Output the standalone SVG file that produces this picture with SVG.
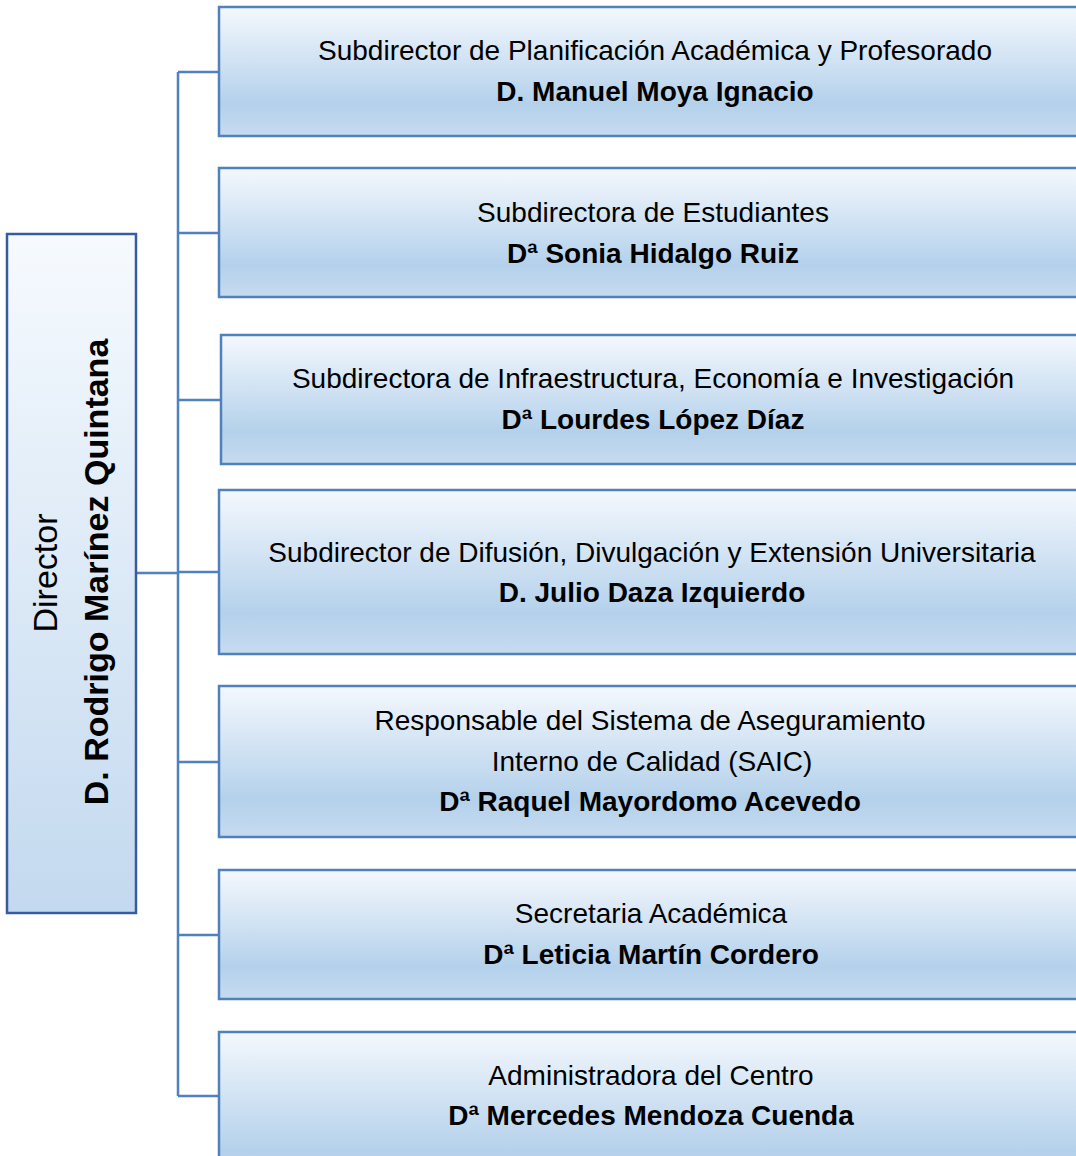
<svg xmlns="http://www.w3.org/2000/svg" width="1076" height="1156" viewBox="0 0 1076 1156">
<defs>
<linearGradient id="g" x1="0" y1="0" x2="0" y2="1">
<stop offset="0" stop-color="#F4F8FD"/>
<stop offset="0.75" stop-color="#B4D1EB"/>
<stop offset="1" stop-color="#C6DBF0"/>
</linearGradient>
<linearGradient id="gd" x1="0" y1="0" x2="0" y2="1">
<stop offset="0" stop-color="#F6FAFE"/>
<stop offset="1" stop-color="#C3D9EF"/>
</linearGradient>
</defs>
<style>
.box{fill:url(#g);stroke:#4F81BD;stroke-width:2.5}
.dir{fill:url(#gd);stroke:#385D9C;stroke-width:2.5}
.ln{fill:none;stroke:#4F81BD;stroke-width:2.5}
text{font-family:"Liberation Sans",Arial,sans-serif;font-size:28px;fill:#000;text-anchor:middle}
.b{font-weight:bold}
.d{font-size:34px}
</style>
<rect width="1076" height="1156" fill="#fff"/>
<g id="connectors">
<path class="ln" d="M178 72V1096M178 72H219M178 233H219M178 400H221M178 572H219M178 762H219M178 935H219M178 1096H219M136 573H178"/>
</g>
<g id="director">
<rect class="dir" x="7" y="234" width="129" height="679"/>
<text class="d" transform="translate(57,573) rotate(-90)">Director</text>
<text class="d b" transform="translate(108,572) rotate(-90)">D. Rodrigo Marínez Quintana</text>
</g>
<g id="n1">
<rect class="box" x="219" y="7" width="880" height="129"/>
<text x="655" y="60">Subdirector de Planificación Académica y Profesorado</text>
<text class="b" x="655" y="101">D. Manuel Moya Ignacio</text>
</g>
<g id="n2">
<rect class="box" x="219" y="168" width="880" height="129"/>
<text x="653" y="222">Subdirectora de Estudiantes</text>
<text class="b" x="653" y="263">Dª Sonia Hidalgo Ruiz</text>
</g>
<g id="n3">
<rect class="box" x="221" y="335" width="880" height="129"/>
<text x="653" y="388">Subdirectora de Infraestructura, Economía e Investigación</text>
<text class="b" x="653" y="429">Dª Lourdes López Díaz</text>
</g>
<g id="n4">
<rect class="box" x="219" y="490" width="880" height="164"/>
<text x="652" y="562">Subdirector de Difusión, Divulgación y Extensión Universitaria</text>
<text class="b" x="652" y="602">D. Julio Daza Izquierdo</text>
</g>
<g id="n5">
<rect class="box" x="219" y="686" width="880" height="151"/>
<text x="650" y="730">Responsable del Sistema de Aseguramiento</text>
<text x="652" y="771">Interno de Calidad (SAIC)</text>
<text class="b" x="650" y="811">Dª Raquel Mayordomo Acevedo</text>
</g>
<g id="n6">
<rect class="box" x="219" y="870" width="880" height="129"/>
<text x="651" y="923">Secretaria Académica</text>
<text class="b" x="651" y="964">Dª Leticia Martín Cordero</text>
</g>
<g id="n7">
<rect class="box" x="219" y="1032" width="880" height="160"/>
<text x="651" y="1085">Administradora del Centro</text>
<text class="b" x="651" y="1125">Dª Mercedes Mendoza Cuenda</text>
</g>
</svg>
